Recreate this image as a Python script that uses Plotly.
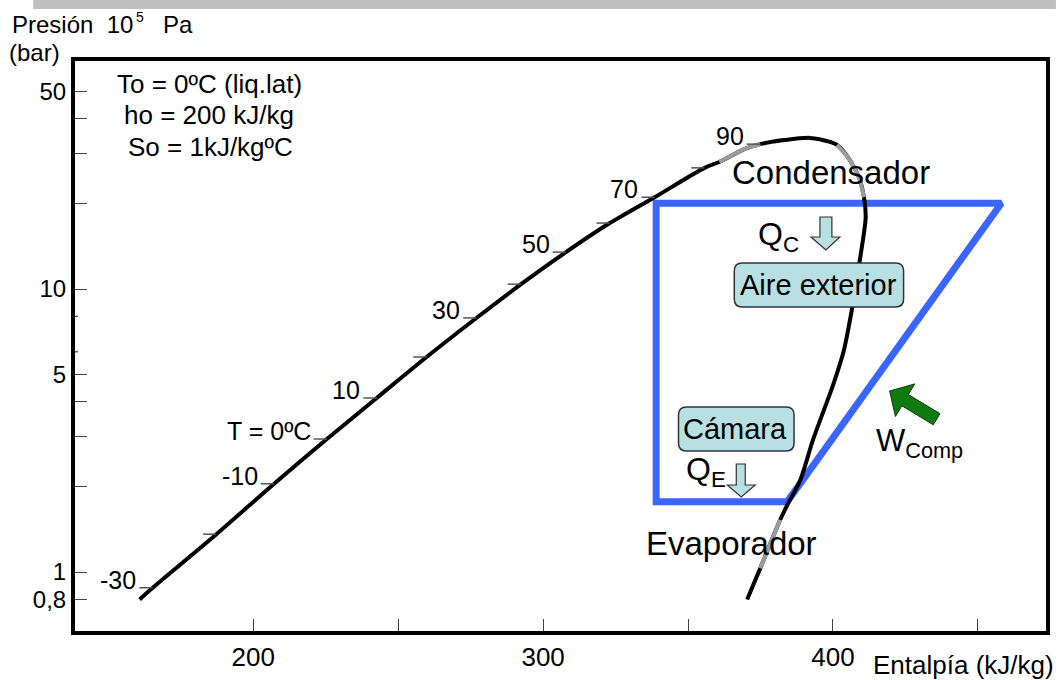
import numpy as np
import plotly.graph_objects as go

# Saturation dome (enthalpy in kJ/kg, pressure in bar), liquid side -> critical zone -> vapour side
dome_h = [160.8, 165.3, 187.3, 207.2, 225.4, 242.6, 259.8, 277.0, 292.4, 307.9, 323.0, 338.5,
          355.7, 360.8, 369.4, 374.9, 383.2, 392.1, 399.0, 401.4, 405.8, 408.9, 410.7, 411.3,
          410.7, 409.3, 406.5, 403.8, 400.3, 396.9, 393.1, 388.7, 384.2, 381.8, 374.9, 370.4]
dome_p = [0.80, 0.88, 1.36, 2.05, 2.95, 4.12, 5.75, 7.90, 10.4, 13.5, 17.1, 21.1,
          26.8, 28.1, 31.2, 32.5, 33.6, 34.2, 33.1, 32.3, 28.6, 24.9, 21.1, 18.0,
          15.8, 12.7, 8.43, 6.09, 4.66, 3.74, 2.93, 2.11, 1.72, 1.53, 1.03, 0.80]
# Stretches of the dome drawn in grey (index ranges into the dome arrays)
grey_segments = [(13, 15), (19, 22), (33, 34)]

# Saturation temperatures marked on the liquid line
sat_temp = [-30, -20, -10, 0, 10, 20, 30, 40, 50, 60, 70, 80, 90]
sat_p = [0.88, 1.36, 2.05, 2.95, 4.12, 5.75, 7.90, 10.4, 13.5, 17.1, 21.1, 26.8, 32.5]
sat_h = [165.3, 187.3, 207.2, 225.4, 242.6, 259.8, 277.0, 292.4, 307.9, 323.0, 338.5, 355.7, 374.9]
temp_labels = {-30: "-30", -10: "-10", 0: "T = 0ºC", 10: "10", 30: "30", 50: "50", 70: "70", 90: "90"}

# Refrigeration cycle: evaporator outlet -> compressor outlet -> condenser outlet -> expansion -> back
cycle_h = [384.2, 458.1, 339.0, 339.0, 384.2]
cycle_p = [1.77, 20.1, 20.1, 1.77, 1.77]

# Axis ticks
x_tickvals = [200, 300, 400]
x_ticktext = ["200", "300", "400"]
x_minor = [250, 350, 450]
y_tickvals = [0.8, 1, 5, 10, 50]
y_ticktext = ["0,8", "1", "5", "10", "50"]
y_minor = [2, 3, 4, 20, 30, 40]
y_nubs = [6, 8]

FONT = "Liberation Sans, Arial, Helvetica, sans-serif"
W, H = 1058, 680
PL, PR, PT, PB = 75, 1050, 61, 631
TICK_DH = 4.6

def fx(px):
    return (px - PL) / (PR - PL)

def fy(py):
    return (PB - py) / (PB - PT)

def poly_path(pts):
    return "M " + " L ".join(f"{fx(x):.5f},{fy(y):.5f}" for x, y in pts) + " Z"

def rounded_box(x0, y0, x1, y1, r):
    P = lambda x, y: f"{fx(x):.5f},{fy(y):.5f}"
    return (f"M {P(x0 + r, y0)} L {P(x1 - r, y0)} Q {P(x1, y0)} {P(x1, y0 + r)} "
            f"L {P(x1, y1 - r)} Q {P(x1, y1)} {P(x1 - r, y1)} L {P(x0 + r, y1)} "
            f"Q {P(x0, y1)} {P(x0, y1 - r)} L {P(x0, y0 + r)} Q {P(x0, y0)} {P(x0 + r, y0)} Z")

fig = go.Figure()

# Cycle
fig.add_trace(go.Scatter(x=cycle_h, y=cycle_p, mode="lines",
                         line=dict(color="#3A66FF", width=7), hoverinfo="skip"))

# Dome
fig.add_trace(go.Scatter(x=dome_h, y=dome_p, mode="lines",
                         line=dict(color="black", width=4, shape="spline", smoothing=0.8),
                         hoverinfo="skip"))
for i0, i1 in grey_segments:
    fig.add_trace(go.Scatter(x=dome_h[i0:i1 + 1], y=dome_p[i0:i1 + 1], mode="lines",
                             line=dict(color="#9C9C9C", width=4, shape="spline", smoothing=0.8),
                             hoverinfo="skip"))

# Temperature marks on the liquid line
tx, ty = [], []
for h, p in zip(sat_h, sat_p):
    tx += [h - TICK_DH, h, None]
    ty += [p, p, None]
fig.add_trace(go.Scatter(x=tx, y=ty, mode="lines", line=dict(color="#555555", width=1.5),
                         hoverinfo="skip"))

annotations = []
for t, h, p in zip(sat_temp, sat_h, sat_p):
    if t in temp_labels:
        annotations.append(dict(x=h - TICK_DH, y=np.log10(p), xref="x", yref="y",
                                text=temp_labels[t], showarrow=False, xanchor="right",
                                yanchor="middle", xshift=-1, yshift=8,
                                font=dict(family=FONT, size=25, color="black")))

def label(px, py, text, size, xanchor="center", yanchor="middle"):
    annotations.append(dict(x=fx(px), y=fy(py), xref="paper", yref="paper", text=text,
                            showarrow=False, xanchor=xanchor, yanchor=yanchor,
                            font=dict(family=FONT, size=size, color="black")))

label(10, 24, "Presión\u00a0\u00a010", 24, xanchor="left")
label(134, 17, "5", 14, xanchor="left")
label(161, 24, "Pa", 24, xanchor="left")
label(7, 53, "(bar)", 24, xanchor="left")
label(210, 84, "To = 0ºC (liq.lat)", 26)
label(210, 115, "ho = 200 kJ/kg", 26)
label(211, 147, "So = 1kJ/kgºC", 26)
label(834, 172, "Condensador", 33)
label(734, 543, "Evaporador", 33)
label(822, 285, "Aire exterior", 29)
label(738, 429, "Cámara", 29)
label(759, 237, "Q<sub>C</sub>", 32, xanchor="left")
label(687, 471, "Q<sub>E</sub>", 32, xanchor="left")
label(877, 443, "W<sub>Comp</sub>", 31, xanchor="left")
label(1060, 665, "Entalpía (kJ/kg)", 26, xanchor="right")

shapes = [
    # heading strip at the top edge
    dict(type="rect", xref="paper", yref="paper", x0=fx(33), x1=fx(1060), y0=fy(9), y1=fy(-2),
         fillcolor="#C0C0C0", line=dict(width=0), layer="above"),
    # boxes
    dict(type="path", xref="paper", yref="paper", path=rounded_box(737, 263, 907, 307, 8),
         fillcolor="#B8E0E2", line=dict(color="#333333", width=1.5), layer="above"),
    dict(type="path", xref="paper", yref="paper", path=rounded_box(681, 407, 797, 451, 8),
         fillcolor="#B8E0E2", line=dict(color="#333333", width=1.5), layer="above"),
    # heat arrows
    dict(type="path", xref="paper", yref="paper",
         path=poly_path([(823, 217), (835, 217), (835, 237), (843, 237), (829, 250), (814, 237), (823, 237)]),
         fillcolor="#B8E0E2", line=dict(color="#333333", width=1.2), layer="above"),
    dict(type="path", xref="paper", yref="paper",
         path=poly_path([(739, 464), (748, 464), (748, 485), (758, 485), (744, 497), (730, 485), (739, 485)]),
         fillcolor="#B8E0E2", line=dict(color="#333333", width=1.2), layer="above"),
    # compressor work arrow
    dict(type="path", xref="paper", yref="paper",
         path=poly_path([(893, 391), (918.2, 383.9), (911.8, 394.6), (943.5, 413.6),
                         (936.9, 424.8), (905.2, 405.8), (898.8, 416.5)]),
         fillcolor="#107A10", line=dict(color="#0B3A0B", width=1), layer="above"),
]
# small marks on the pressure axis
for v in y_nubs:
    shapes.append(dict(type="line", xref="paper", yref="y", x0=0, x1=fx(PL + 3), y0=v, y1=v,
                       line=dict(color="#444444", width=1.3), layer="above"))

fig.update_layout(
    width=W, height=H,
    margin=dict(l=PL, r=W - PR, t=PT, b=H - PB, pad=0),
    paper_bgcolor="white", plot_bgcolor="white",
    showlegend=False,
    font=dict(family=FONT, color="black"),
    annotations=annotations,
    shapes=shapes,
    xaxis=dict(range=[138.5, 473.5], tickmode="array", tickvals=x_tickvals, ticktext=x_ticktext,
               ticks="inside", ticklen=12, tickwidth=1.3, tickcolor="#444444",
               minor=dict(tickmode="array", tickvals=x_minor, ticks="inside", ticklen=12,
                          tickwidth=1.3, tickcolor="#444444"),
               showline=True, linewidth=4, linecolor="black", mirror=True,
               showgrid=False, zeroline=False, tickfont=dict(size=26, family=FONT)),
    yaxis=dict(type="log", range=[-0.2085, 1.8057], tickmode="array", tickvals=y_tickvals,
               ticktext=y_ticktext, ticks="inside", ticklen=12, tickwidth=1.3, tickcolor="#444444",
               minor=dict(tickmode="array", tickvals=y_minor, ticks="inside", ticklen=12,
                          tickwidth=1.3, tickcolor="#444444"),
               showline=True, linewidth=4, linecolor="black", mirror=True,
               showgrid=False, zeroline=False, tickfont=dict(size=24, family=FONT)),
)

fig.write_html("out.html")
